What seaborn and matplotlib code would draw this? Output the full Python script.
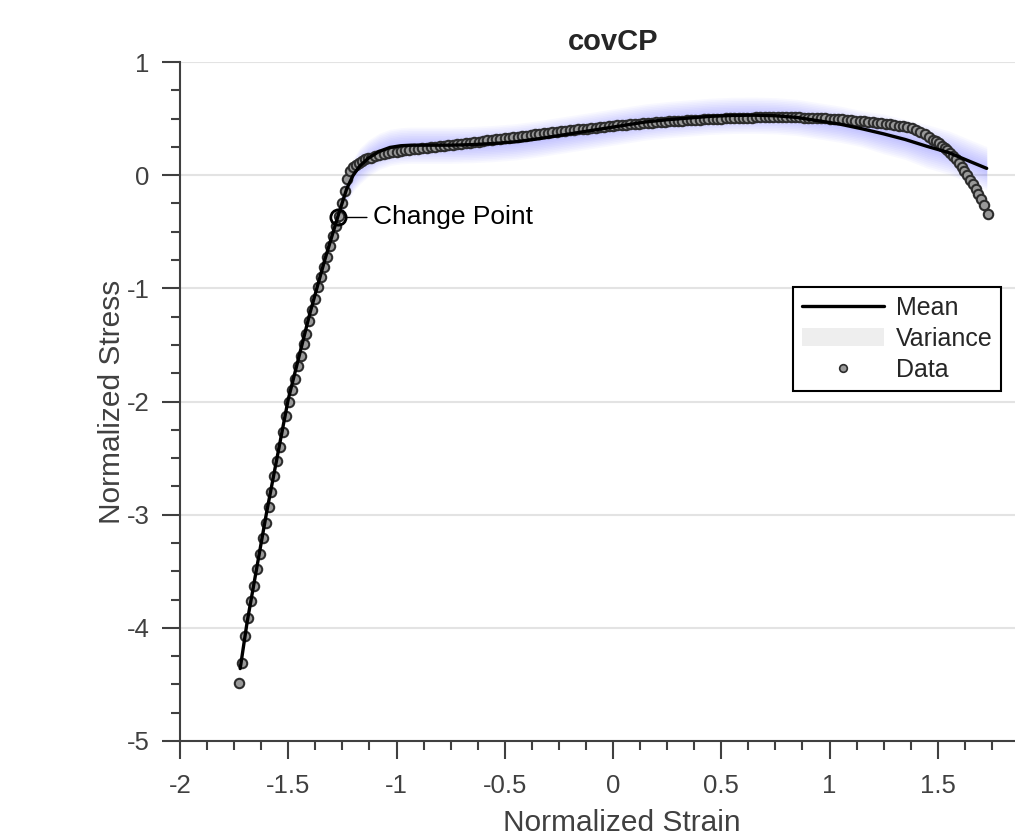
import numpy as np
import pandas as pd
import seaborn as sns
import matplotlib
matplotlib.use("Agg")
import matplotlib.pyplot as plt
from matplotlib.ticker import FixedLocator, FuncFormatter, MultipleLocator
from matplotlib.lines import Line2D
from matplotlib.patches import Patch

# data
# steep (elastic) part and the knee
steep_x = [-1.726, -1.713, -1.699, -1.686, -1.672, -1.659, -1.645, -1.632, -1.618, -1.605,
           -1.591, -1.578, -1.564, -1.551, -1.537, -1.524, -1.510, -1.497, -1.483, -1.470,
           -1.456, -1.443, -1.429, -1.416, -1.402, -1.389, -1.375, -1.362, -1.348, -1.335,
           -1.321, -1.308, -1.294, -1.281, -1.267, -1.254, -1.240, -1.227, -1.213, -1.200,
           -1.186, -1.173, -1.159, -1.146, -1.132]
steep_y = [-4.49, -4.31, -4.07, -3.91, -3.76, -3.63, -3.48, -3.35, -3.21, -3.07,
           -2.93, -2.80, -2.66, -2.53, -2.40, -2.27, -2.13, -2.00, -1.90, -1.80,
           -1.69, -1.60, -1.49, -1.40, -1.29, -1.19, -1.09, -0.99, -0.90, -0.81,
           -0.72, -0.63, -0.54, -0.45, -0.36, -0.25, -0.14, -0.03, 0.04, 0.07,
           0.09, 0.11, 0.125, 0.14, 0.15]

# plateau
plat_x = [-1.12, -1.10, -1.08, -1.06, -1.04, -1.02, -1.00, -0.98, -0.96, -0.94,
          -0.92, -0.90, -0.88, -0.86, -0.84, -0.82, -0.80, -0.78, -0.76, -0.74,
          -0.72, -0.70, -0.68, -0.66, -0.64, -0.62, -0.60, -0.58, -0.56, -0.54,
          -0.52, -0.50, -0.48, -0.46, -0.44, -0.42, -0.40, -0.38, -0.36, -0.34,
          -0.32, -0.30, -0.28, -0.26, -0.24, -0.22, -0.20, -0.18, -0.16, -0.14,
          -0.12, -0.10, -0.08, -0.06, -0.04, -0.02, 0.00, 0.02, 0.04, 0.06,
          0.08, 0.10, 0.12, 0.14, 0.16, 0.18, 0.20, 0.22, 0.24, 0.26,
          0.28, 0.30, 0.32, 0.34, 0.36, 0.38, 0.40, 0.42, 0.44, 0.46,
          0.48, 0.50, 0.52, 0.54, 0.56, 0.58, 0.60, 0.62, 0.64, 0.66,
          0.68, 0.70, 0.72, 0.74, 0.76, 0.78, 0.80, 0.82, 0.84, 0.86,
          0.88, 0.90, 0.92, 0.94, 0.96, 0.98, 1.00, 1.02, 1.04, 1.06,
          1.08, 1.10, 1.12, 1.14, 1.16, 1.18, 1.20, 1.22, 1.24, 1.26,
          1.28, 1.30, 1.32, 1.34, 1.36, 1.38, 1.40, 1.42, 1.44, 1.46,
          1.48]
plat_y = [0.156, 0.165, 0.175, 0.185, 0.195, 0.202, 0.208, 0.215, 0.220, 0.225,
          0.230, 0.235, 0.239, 0.244, 0.248, 0.252, 0.257, 0.261, 0.265, 0.270,
          0.275, 0.279, 0.284, 0.288, 0.292, 0.297, 0.302, 0.307, 0.312, 0.317,
          0.322, 0.327, 0.332, 0.336, 0.340, 0.345, 0.350, 0.355, 0.360, 0.365,
          0.370, 0.375, 0.379, 0.384, 0.388, 0.392, 0.396, 0.400, 0.404, 0.408,
          0.412, 0.416, 0.420, 0.424, 0.428, 0.432, 0.435, 0.439, 0.442, 0.445,
          0.449, 0.452, 0.455, 0.458, 0.461, 0.464, 0.466, 0.469, 0.472, 0.475,
          0.477, 0.480, 0.482, 0.484, 0.487, 0.489, 0.491, 0.493, 0.495, 0.497,
          0.499, 0.500, 0.502, 0.503, 0.505, 0.506, 0.507, 0.508, 0.509, 0.510,
          0.510, 0.511, 0.512, 0.512, 0.512, 0.512, 0.512, 0.511, 0.510, 0.510,
          0.509, 0.508, 0.506, 0.505, 0.503, 0.501, 0.499, 0.497, 0.495, 0.492,
          0.489, 0.486, 0.483, 0.480, 0.476, 0.472, 0.468, 0.464, 0.460, 0.455,
          0.450, 0.445, 0.438, 0.431, 0.424, 0.414, 0.398, 0.380, 0.360, 0.338,
          0.315]

# drop-off at the right end
tail_x = [1.493, 1.506, 1.519, 1.532, 1.545, 1.558, 1.571, 1.584, 1.597, 1.610,
          1.623, 1.636, 1.649, 1.662, 1.675, 1.688, 1.701, 1.714, 1.732]
tail_y = [0.300, 0.280, 0.262, 0.243, 0.222, 0.200, 0.172, 0.142, 0.110, 0.075,
          0.040, 0.000, -0.040, -0.080, -0.120, -0.165, -0.210, -0.260, -0.340]

mean_x = [-1.722, -1.69, -1.60, -1.50, -1.40, -1.33, -1.27, -1.23, -1.20, -1.17,
          -1.13, -1.08, -1.03, -0.98, -0.93, -0.85, -0.75, -0.65, -0.55, -0.45,
          -0.35, -0.25, -0.15, -0.05, 0.05, 0.15, 0.25, 0.35, 0.45, 0.55,
          0.65, 0.75, 0.85, 0.95, 1.05, 1.15, 1.25, 1.35, 1.45, 1.55,
          1.65, 1.726]
mean_y = [-4.36, -3.95, -2.98, -1.98, -1.22, -0.74, -0.36, -0.12, 0.0, 0.08,
          0.15, 0.21, 0.245, 0.26, 0.265, 0.265, 0.265, 0.27, 0.28, 0.295,
          0.32, 0.35, 0.38, 0.41, 0.44, 0.47, 0.49, 0.505, 0.52, 0.528,
          0.53, 0.525, 0.51, 0.48, 0.45, 0.41, 0.365, 0.315, 0.255, 0.20,
          0.12, 0.06]
# half width of the variance band at the mean points
var_w = [0.0, 0.0, 0.0, 0.0, 0.01, 0.03, 0.06, 0.08, 0.09, 0.10,
         0.10, 0.10, 0.10, 0.10, 0.10, 0.10, 0.10, 0.10, 0.10, 0.10,
         0.10, 0.10, 0.10, 0.10, 0.10, 0.10, 0.10, 0.10, 0.10, 0.10,
         0.10, 0.10, 0.10, 0.10, 0.10, 0.10, 0.11, 0.11, 0.12, 0.12,
         0.12, 0.12]

change_x = -1.269
change_y = -0.374

x_ticks = [-2, -1.5, -1, -0.5, 0, 0.5, 1, 1.5]

df = pd.DataFrame({"x": steep_x + plat_x + tail_x, "y": steep_y + plat_y + tail_y})
mf = pd.DataFrame({"x": mean_x, "y": mean_y, "w": var_w})

sns.set_style("white")
plt.rcParams["font.family"] = ["Liberation Sans", "DejaVu Sans"]
plt.rcParams["axes.unicode_minus"] = False

fig = plt.figure(figsize=(10.15, 8.4), dpi=100)
ax = fig.add_axes([180 / 1015, 99 / 840, 866 / 1015, 679 / 840])

axcol = "#404040"

# blurred variance band
mx = mf["x"].to_numpy()
my = mf["y"].to_numpy()
w = mf["w"].to_numpy()
for k in np.linspace(0.25, 1.6, 10):
    ax.fill_between(mx, my - k * w, my + k * w, color=(0.4, 0.4, 1.0), alpha=0.045, lw=0, zorder=2)

sns.scatterplot(data=df, x="x", y="y", ax=ax, s=46, color="#999999",
                edgecolor="#2c2c2c", linewidth=1.5, zorder=3, legend=False)
sns.lineplot(data=mf, x="x", y="y", ax=ax, color="black", lw=2.4, zorder=4,
             sort=False, estimator=None)

ax.plot([change_x], [change_y], "o", ms=11, mfc="none", mec="black", mew=2, zorder=5)
ax.annotate("Change Point", xy=(change_x, change_y), xytext=(25, 0),
            textcoords="offset points", va="center", ha="left", fontsize=19,
            color="black",
            arrowprops=dict(arrowstyle="-", color="black", lw=1, shrinkA=2, shrinkB=5))

ax.set_xlim(-2, 2)
ax.set_ylim(-5, 1)
ax.xaxis.set_major_locator(FixedLocator(x_ticks))
ax.yaxis.set_major_locator(MultipleLocator(1))
ax.xaxis.set_minor_locator(MultipleLocator(0.125))
ax.yaxis.set_minor_locator(MultipleLocator(0.25))
fmt = FuncFormatter(lambda v, p: "%g" % v)
ax.xaxis.set_major_formatter(fmt)
ax.yaxis.set_major_formatter(fmt)

ax.yaxis.grid(True, color="#e3e3e3", lw=1.5, zorder=0)
ax.set_axisbelow(True)
for s in ["top", "right"]:
    ax.spines[s].set_visible(False)
for s in ["left", "bottom"]:
    ax.spines[s].set_color(axcol)
    ax.spines[s].set_linewidth(1.5)
ax.tick_params(which="both", bottom=True, left=True, top=False, right=False)
ax.tick_params(which="major", direction="out", length=13, width=1.5, color=axcol,
               labelsize=18.5, labelcolor=axcol)
ax.tick_params(axis="x", which="major", pad=11)
ax.tick_params(axis="y", which="major", pad=9)
ax.tick_params(which="minor", direction="out", length=6.5, width=1.5, color=axcol)

ax.set_xlabel("Normalized Strain", fontsize=21.5, color=axcol)
ax.set_ylabel("Normalized Stress", fontsize=21.5, color=axcol)
ax.xaxis.set_label_coords(0.51, -0.1, transform=ax.transAxes)
ax.xaxis.label.set_va("top")
ax.yaxis.set_label_coords(-0.062, 0.5, transform=ax.transAxes)
ax.set_title("covCP", fontsize=21, fontweight="bold", pad=9)

handles = [Line2D([0], [0], color="black", lw=2.4),
           Patch(facecolor="#eeeeee", edgecolor="none"),
           Line2D([0], [0], marker="o", ls="none", ms=5.5, mfc="#999999", mec="#2c2c2c", mew=1.2)]
leg = ax.legend(handles, ["Mean", "Variance", "Data"], loc="upper right",
                bbox_to_anchor=(1001 / 1015, 1 - 287 / 840), bbox_transform=fig.transFigure,
                borderaxespad=0, fontsize=18, frameon=True, fancybox=False, framealpha=1,
                handlelength=3.3, handletextpad=0.45, labelspacing=0.28, borderpad=0.35)
leg.get_frame().set_edgecolor("black")
leg.get_frame().set_linewidth(1.5)

fig.savefig("out.png", dpi=100)
